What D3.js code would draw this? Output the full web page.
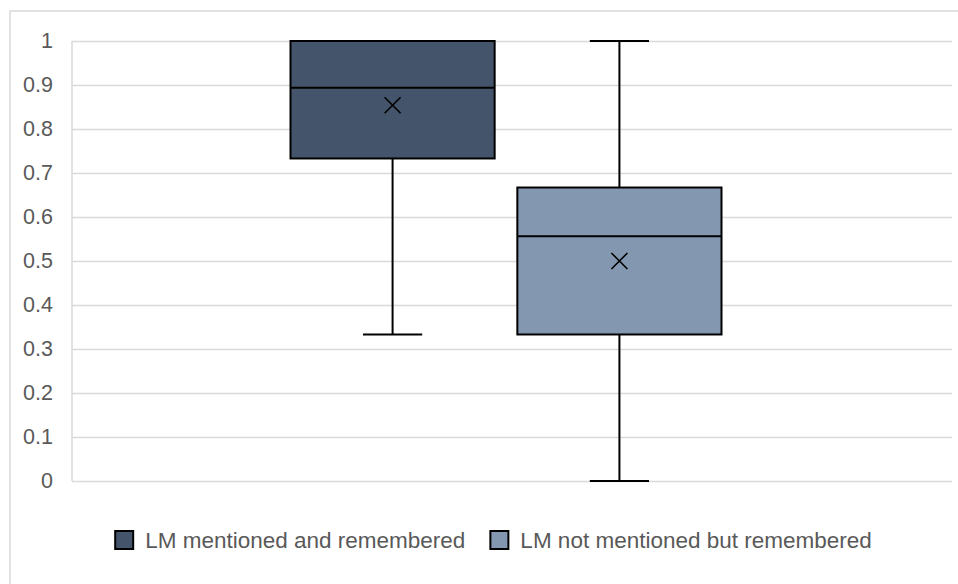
<!DOCTYPE html>
<html>
<head>
<meta charset="utf-8">
<script src="https://cdn.jsdelivr.net/npm/d3@7/dist/d3.min.js"></script>
<style>
  html, body { margin: 0; padding: 0; background: #ffffff; }
  svg { display: block; }
  text { font-family: "Liberation Sans", Arial, sans-serif; fill: #595959; }
</style>
</head>
<body>
<svg id="chart" width="958" height="584"></svg>
<script>
// Series names (legend entries)
const seriesNames = ["LM mentioned and remembered", "LM not mentioned but remembered"];
// Five-number summaries plus mean, one entry per series
const minValues    = [0.333, 0.0];
const q1Values     = [0.733, 0.333];
const medianValues = [0.894, 0.556];
const q3Values     = [1.0,   0.667];
const maxValues    = [1.0,   1.0];
const meanValues   = [0.854, 0.5];
// Value axis ticks
const tickValues = [0, 0.1, 0.2, 0.3, 0.4, 0.5, 0.6, 0.7, 0.8, 0.9, 1];
const tickLabels = ["0", "0.1", "0.2", "0.3", "0.4", "0.5", "0.6", "0.7", "0.8", "0.9", "1"];
const fills = ["#44546a", "#8497b0"];

const svg = d3.select("#chart");
const plot = { left: 72, right: 952, top: 41, bottom: 481 };

// Outer chart frame
svg.append("rect")
  .attr("x", 10).attr("y", 11)
  .attr("width", 1000).attr("height", 620)
  .attr("fill", "none").attr("stroke", "#d9d9d9").attr("stroke-width", 1.5);

const y = d3.scaleLinear().domain([0, 1]).range([plot.bottom, plot.top]);
const x = d3.scaleBand().domain(seriesNames).range([290.5, 721.5]).paddingInner(0.1);

// Gridlines and tick labels
const yAxis = d3.axisLeft(y)
  .tickValues(tickValues)
  .tickFormat((d, i) => tickLabels[i])
  .tickSize(-(plot.right - plot.left))
  .tickPadding(19);
const gy = svg.append("g").attr("transform", `translate(${plot.left},0)`).call(yAxis);
gy.select(".domain").remove();
gy.selectAll(".tick line").attr("stroke", "#d9d9d9").attr("stroke-width", 1.5);
gy.selectAll(".tick text")
  .attr("font-size", 21.5).attr("fill", "#595959")
  .style("font-family", '"Liberation Sans", Arial, sans-serif');

// Left axis line
svg.append("line")
  .attr("x1", plot.left).attr("x2", plot.left)
  .attr("y1", y(1)).attr("y2", y(0))
  .attr("stroke", "#d9d9d9").attr("stroke-width", 1.5);

const data = seriesNames.map((name, i) => ({
  name, min: minValues[i], q1: q1Values[i], median: medianValues[i],
  q3: q3Values[i], max: maxValues[i], mean: meanValues[i], fill: fills[i]
}));

const boxes = svg.append("g").selectAll("g").data(data).join("g");
const bw = x.bandwidth();
const capW = bw * 0.29;

// Whiskers
boxes.append("line")
  .attr("x1", d => x(d.name) + bw / 2).attr("x2", d => x(d.name) + bw / 2)
  .attr("y1", d => y(d.max)).attr("y2", d => y(d.min))
  .attr("stroke", "#000").attr("stroke-width", 2);
["min", "max"].forEach(k => {
  boxes.append("line")
    .attr("x1", d => x(d.name) + bw / 2 - capW / 2)
    .attr("x2", d => x(d.name) + bw / 2 + capW / 2)
    .attr("y1", d => y(d[k])).attr("y2", d => y(d[k]))
    .attr("stroke", "#000").attr("stroke-width", 2);
});

// Boxes
boxes.append("rect")
  .attr("x", d => x(d.name)).attr("width", bw)
  .attr("y", d => y(d.q3)).attr("height", d => y(d.q1) - y(d.q3))
  .attr("fill", d => d.fill).attr("stroke", "#000").attr("stroke-width", 2);

// Median
boxes.append("line")
  .attr("x1", d => x(d.name)).attr("x2", d => x(d.name) + bw)
  .attr("y1", d => y(d.median)).attr("y2", d => y(d.median))
  .attr("stroke", "#000").attr("stroke-width", 2);

// Mean marker (x)
const m = 8;
boxes.append("path")
  .attr("d", d => {
    const cx = x(d.name) + bw / 2, cy = y(d.mean);
    return `M${cx - m},${cy - m}L${cx + m},${cy + m}M${cx - m},${cy + m}L${cx + m},${cy - m}`;
  })
  .attr("stroke", "#000").attr("stroke-width", 1.6).attr("fill", "none");

// Legend
const legend = svg.append("g");
const fontSize = 22.5, sw = 20, gapText = 11, gapItem = 25, legendY = 540;
const items = legend.selectAll("g").data(data).join("g");
items.append("rect")
  .attr("width", sw - 2).attr("height", sw - 2)
  .attr("x", 1).attr("y", -sw / 2 + 1)
  .attr("fill", d => d.fill).attr("stroke", "#000").attr("stroke-width", 2);
items.append("text")
  .attr("x", sw + gapText).attr("y", 0).attr("dy", "0.35em")
  .attr("font-size", fontSize)
  .text(d => d.name);
let widths = [];
items.each(function () { widths.push(this.getBBox().width); });
const total = d3.sum(widths) + gapItem * (widths.length - 1);
let cursor = 492.5 - total / 2;
items.attr("transform", (d, i) => {
  const t = `translate(${cursor},${legendY})`;
  cursor += widths[i] + gapItem;
  return t;
});
</script>
</body>
</html>
